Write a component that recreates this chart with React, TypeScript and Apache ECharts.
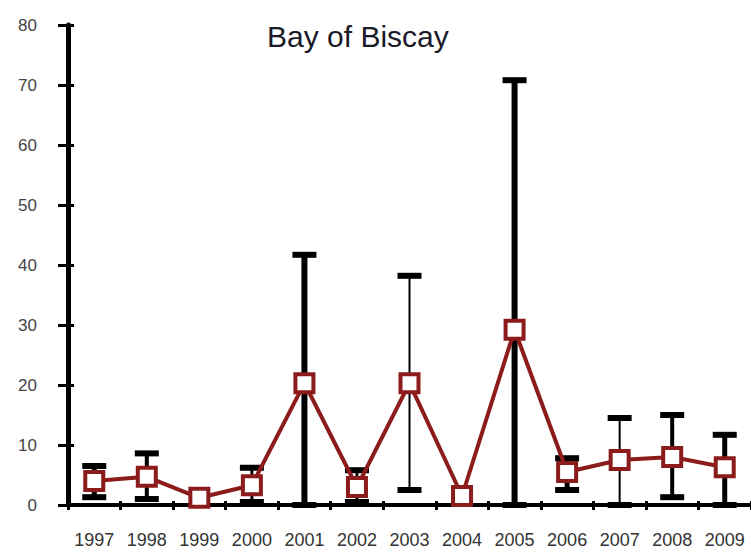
import React, { useEffect, useRef } from "react";
import * as echarts from "echarts";

const years = ["1997", "1998", "1999", "2000", "2001", "2002", "2003", "2004", "2005", "2006", "2007", "2008", "2009"];
const means = [4.0, 4.7, 1.2, 3.3, 20.3, 3.0, 20.3, 1.5, 29.2, 5.5, 7.5, 8.0, 6.3];
const errLow: (number | null)[] = [1.3, 1.0, null, 0.5, 0, 0.5, 2.5, null, 0, 2.5, 0, 1.3, 0];
const errHigh: (number | null)[] = [6.5, 8.6, null, 6.2, 41.7, 5.8, 38.2, null, 70.8, 7.8, 14.5, 15.0, 11.7];
const yTicks = { min: 0, max: 80, interval: 10 };

// stroke widths of each error bar (style only)
const errStroke = [5, 4, 0, 3, 6, 3, 2, 0, 6, 5, 2, 4, 5];

export default function App() {
  const ref = useRef<HTMLDivElement>(null);
  useEffect(() => {
    if (!ref.current) return;
    const chart = echarts.init(ref.current, null, { renderer: "svg" });
    const errData = years
      .map((_, i) => (errLow[i] == null || errHigh[i] == null ? null : [i, errLow[i], errHigh[i]]))
      .filter((d) => d != null);
    const red = "#8c1c1c";
    const font = "Liberation Sans, Arial, sans-serif";
    chart.setOption({
      animation: false,
      backgroundColor: "#ffffff",
      title: {
        text: "Bay of Biscay",
        left: 262,
        top: 16,
        textStyle: { fontFamily: font, fontSize: 30, fontWeight: "normal", color: "#1a1a28" },
      },
      grid: { left: 68, top: 25, width: 693, height: 480 },
      xAxis: [
        {
          type: "category",
          data: years,
          boundaryGap: true,
          axisLine: { lineStyle: { color: "#000", width: 4 } },
          axisTick: { show: true, length: 5, lineStyle: { color: "#000", width: 3 } },
          axisLabel: { margin: 26, color: "#333", fontSize: 18, fontFamily: font },
          splitLine: { show: false },
        },
        {
          type: "category",
          data: years,
          position: "bottom",
          boundaryGap: true,
          axisLine: { show: false },
          axisTick: { show: true, inside: true, length: 4, lineStyle: { color: "#000", width: 3 } },
          axisLabel: { show: false },
        },
      ],
      yAxis: [
        {
          type: "value",
          min: yTicks.min,
          max: yTicks.max,
          interval: yTicks.interval,
          axisLine: { show: true, lineStyle: { color: "#000", width: 5 } },
          axisTick: { show: true, length: 10, lineStyle: { color: "#000", width: 3 } },
          axisLabel: { margin: 31, color: "#444", fontSize: 17, fontFamily: font },
          splitLine: { show: false },
        },
        {
          type: "value",
          min: yTicks.min,
          max: yTicks.max,
          interval: yTicks.interval,
          position: "left",
          axisLine: { show: false },
          axisTick: { show: true, inside: true, length: 6, lineStyle: { color: "#000", width: 3 } },
          axisLabel: { show: false },
          splitLine: { show: false },
        },
      ],
      series: [
        {
          type: "custom",
          z: 2,
          data: errData,
          encode: { x: 0, y: [1, 2] },
          renderItem: (params: any, api: any) => {
            const i = api.value(0);
            const lo = api.coord([i, api.value(1)]);
            const hi = api.coord([i, api.value(2)]);
            const w = errStroke[i] || 3;
            const half = 12;
            return {
              type: "group",
              children: [
                { type: "line", shape: { x1: hi[0], y1: hi[1], x2: lo[0], y2: lo[1] }, style: { stroke: "#000", lineWidth: w } },
                { type: "rect", shape: { x: hi[0] - half, y: hi[1] - 3, width: half * 2, height: 6 }, style: { fill: "#000" } },
                { type: "rect", shape: { x: lo[0] - half, y: lo[1] - 3, width: half * 2, height: 6 }, style: { fill: "#000" } },
              ],
            };
          },
        },
        {
          type: "line",
          z: 5,
          data: means,
          symbol: "rect",
          symbolSize: 18,
          lineStyle: { color: red, width: 4 },
          itemStyle: { color: "#fff", borderColor: red, borderWidth: 4 },
        },
      ],
    });
    return () => chart.dispose();
  }, []);
  return <div ref={ref} style={{ width: 751, height: 556, position: "absolute", left: 0, top: 0 }} />;
}
